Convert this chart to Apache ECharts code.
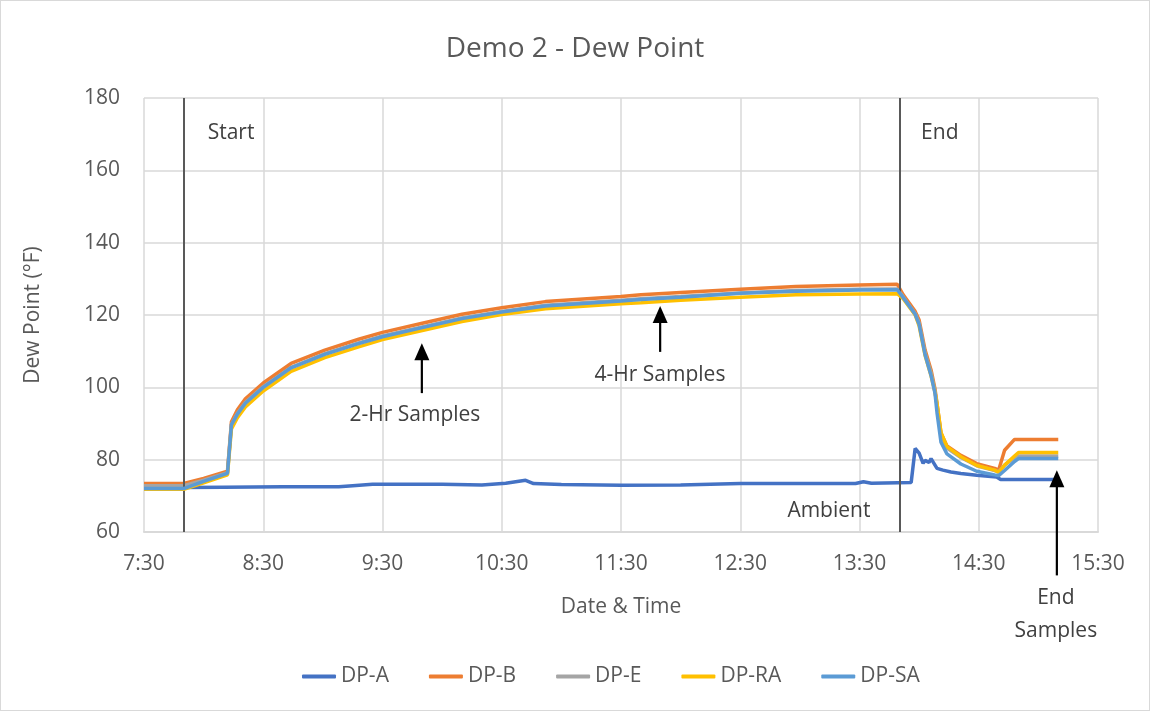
<!DOCTYPE html>
<html>
<head>
<meta charset="utf-8">
<script src="https://cdn.jsdelivr.net/npm/echarts@6/dist/echarts.min.js"></script>
<style>
html,body{margin:0;padding:0;background:#fff;}
#chart{width:1150px;height:711px;}
#frame{position:absolute;left:0;top:0;width:1148px;height:709px;border:1px solid #d9d9d9;pointer-events:none;}
</style>
</head>
<body>
<div id="chart"></div>
<div id="frame"></div>
<script>
// ---------------- data ----------------
const chartTitle = 'Demo 2 - Dew Point';
const xAxisName = 'Date & Time';
const yAxisName = 'Dew Point (°F)';
const xTickLabels = ['7:30','8:30','9:30','10:30','11:30','12:30','13:30','14:30','15:30'];
const seriesNames = ['DP-A','DP-B','DP-E','DP-RA','DP-SA'];

// shared time stamps for the chamber sensors
const chamberTimes = ['7:30','7:50','8:00','8:12','8:14','8:17','8:21','8:30','8:44','9:01','9:18','9:30','9:50','10:10','10:30','10:52','11:30','11:40','12:00','12:30','12:58','13:30','13:49','13:52','13:58','14:00','14:03','14:06','14:08','14:09','14:11','14:14','14:21','14:29','14:38','14:40','14:43','14:48','14:50','15:10'];
const dpB  = [73.4,73.4,74.8,76.8,90.5,93.8,96.8,101.2,106.6,110.3,113.3,115.2,117.7,120.2,122.0,123.7,125.1,125.6,126.2,127.1,127.9,128.3,128.5,125.6,121.0,118.6,110.3,104.8,99.5,95.5,87.3,83.8,81.2,78.9,77.6,77.1,82.6,85.6,85.6,85.6];
const dpE  = [72.8,72.8,74.3,76.4,89.8,92.8,95.8,100.2,105.5,109.3,112.3,114.2,116.7,119.2,121.0,122.7,124.1,124.5,125.1,126.1,126.8,127.1,127.2,125.0,120.4,117.8,109.5,104.0,98.8,95.0,86.8,83.2,80.6,78.3,77.0,76.6,78.5,80.5,81.0,81.0];
const dpRA = [71.8,71.8,73.6,75.8,88.5,91.6,94.6,99.0,104.4,108.2,111.2,113.2,115.7,118.2,120.1,121.7,123.1,123.4,124.1,124.9,125.6,125.8,125.9,124.5,120.0,117.0,108.8,103.2,98.6,95.5,87.5,83.6,80.8,78.4,77.1,76.5,78.5,81.0,82.0,82.0];
const dpSA = [72.0,72.0,74.0,76.2,89.6,92.6,95.6,100.0,105.4,109.1,112.1,114.0,116.5,119.0,120.8,122.5,123.9,124.3,124.9,126.0,126.6,126.9,127.0,124.8,120.2,117.4,109.0,103.3,98.3,93.0,84.8,81.6,78.8,76.8,75.8,75.6,77.0,79.5,80.3,80.3];

// ambient sensor
const ambientTimes = ['7:30','7:50','8:10','8:40','9:08','9:15','9:25','10:00','10:20','10:32','10:42','10:46','11:00','11:30','12:00','12:30','13:28','13:32','13:36','13:56','13:58','14:00','14:02','14:03','14:05','14:06','14:09','14:12','14:16','14:21','14:29','14:39','14:41','15:10'];
const dpA = [72.0,72.3,72.4,72.5,72.5,72.8,73.2,73.2,73.0,73.5,74.3,73.4,73.1,72.9,73.0,73.4,73.4,73.9,73.5,73.7,83.1,81.8,79.0,79.8,79.2,80.3,77.6,77.1,76.6,76.2,75.7,75.2,74.5,74.5];

// event markers
const eventTimes = ['7:50','13:50'];

// annotation texts & arrows (data coordinates: time, value)
const annoTexts = [
  {text:'Start', t:'8:13.8', v:170.2},
  {text:'End', t:'14:10.4', v:170.2},
  {text:'2-Hr Samples', t:'9:46.3', v:92.3},
  {text:'4-Hr Samples', t:'11:49.6', v:103.4},
  {text:'Ambient', t:'13:14.6', v:65.7},
  {text:'End\nSamples', t:'15:08.8', v:37.3}
];
const annoArrows = [
  {t:'9:49.8', from:98.4, to:112.2},
  {t:'11:49.7', from:109.8, to:122.5},
  {t:'15:09.3', from:48.0, to:77.1}
];

// ---------------- helpers ----------------
function toMin(s){ const p = s.split(':'); return Number(p[0])*60 + Number(p[1]) - 450; }
function pairs(times, vals){ return times.map((t,i)=>[toMin(t), vals[i]]); }

const colors = ['#4472C4','#ED7D31','#A5A5A5','#FFC000','#5B9BD5'];
const seriesData = [pairs(ambientTimes,dpA), pairs(chamberTimes,dpB), pairs(chamberTimes,dpE), pairs(chamberTimes,dpRA), pairs(chamberTimes,dpSA)];

const FONT = '"Open Sans", sans-serif';
const chart = echarts.init(document.getElementById('chart'));

const series = seriesNames.map((n,i)=>({
  name:n, type:'line', data:seriesData[i], showSymbol:false, symbol:'none',
  lineStyle:{width:3.5, color:colors[i]}, itemStyle:{color:colors[i]},
  z: 2+i, animation:false
}));
series[0].markLine = {
  silent:true, symbol:['none','none'], animation:false,
  lineStyle:{color:'#595959', width:2, type:'solid'},
  label:{show:false},
  data: eventTimes.map(t=>({xAxis: toMin(t)}))
};

chart.setOption({
  animation:false,
  title:{text:chartTitle, left:'center', top:30,
    textStyle:{fontFamily:FONT, fontSize:28, fontWeight:'normal', color:'#595959'}},
  grid:{left:144, right:52, top:98, bottom:179, containLabel:false},
  legend:{bottom:19, left:297, itemWidth:34, itemHeight:4, itemGap:40, icon:'roundRect',
    data:seriesNames,
    textStyle:{fontFamily:FONT, fontSize:21, color:'#595959'}},
  xAxis:{type:'value', min:0, max:480, interval:60,
    name:xAxisName, nameLocation:'middle', nameGap:65,
    nameTextStyle:{fontFamily:FONT, fontSize:21, color:'#595959'},
    axisLine:{lineStyle:{color:'#d9d9d9', width:2}}, axisTick:{show:false},
    axisLabel:{fontFamily:FONT, fontSize:21, color:'#595959', margin:22,
      formatter:v=>xTickLabels[Math.round(v/60)]},
    splitLine:{show:true, lineStyle:{color:'#d9d9d9', width:1.5}}},
  yAxis:{type:'value', min:60, max:180, interval:20,
    name:yAxisName, nameLocation:'middle', nameGap:100,
    nameTextStyle:{fontFamily:FONT, fontSize:21, color:'#595959'},
    axisLine:{show:false}, axisTick:{show:false},
    axisLabel:{fontFamily:FONT, fontSize:21, color:'#595959', margin:24},
    splitLine:{show:true, lineStyle:{color:'#d9d9d9', width:1.5}}},
  series: series
});

// annotations placed through the chart's own scales
const g = [];
annoTexts.forEach(a=>{
  const p = chart.convertToPixel({gridIndex:0}, [toMin(a.t), a.v]);
  g.push({type:'text', x:p[0], y:p[1], z:100,
    style:{text:a.text, align:'center', verticalAlign:'middle', fill:'#404040',
      font:'21px ' + FONT, lineHeight:33}});
});
annoArrows.forEach(a=>{
  const x = toMin(a.t);
  const p0 = chart.convertToPixel({gridIndex:0}, [x, a.from]);
  const p1 = chart.convertToPixel({gridIndex:0}, [x, a.to]);
  const head = 17, hw = 7.5;
  g.push({type:'line', z:100, shape:{x1:p0[0], y1:p0[1], x2:p1[0], y2:p1[1]+head-2},
    style:{stroke:'#000', lineWidth:2.2}});
  g.push({type:'polygon', z:100, shape:{points:[[p1[0],p1[1]],[p1[0]-hw,p1[1]+head],[p1[0]+hw,p1[1]+head]]},
    style:{fill:'#000'}});
});
chart.setOption({graphic:g});
</script>
</body>
</html>
